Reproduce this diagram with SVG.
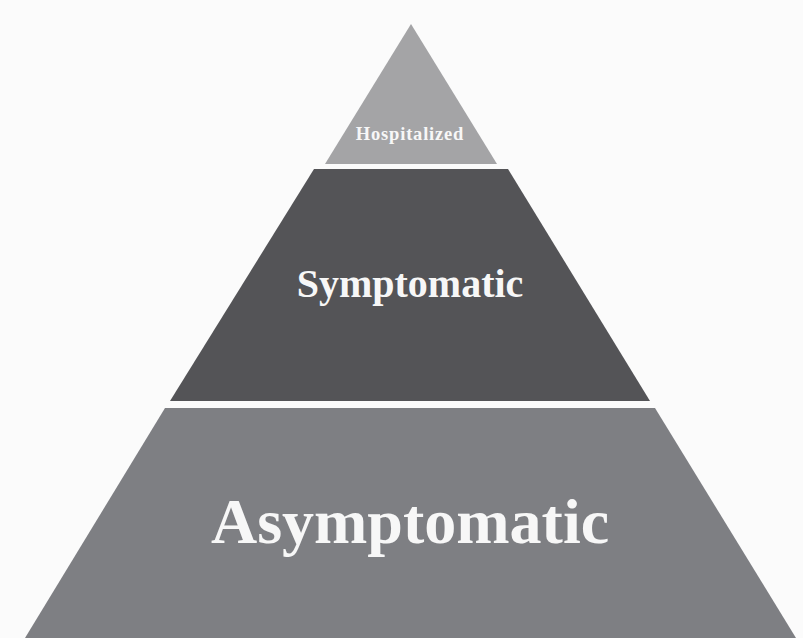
<svg xmlns="http://www.w3.org/2000/svg" width="803" height="638" viewBox="0 0 803 638">
<style>
.lbl{font-family:"Liberation Serif","Times New Roman",serif;font-weight:bold;fill:#f7f7f7;text-anchor:middle}
</style>
<rect x="0" y="0" width="803" height="638" fill="#fbfbfb"/>
<g id="hospitalized">
<polygon points="411,24 497,164 325,164" fill="#a4a4a6"/>
<text class="lbl" x="410" y="140" font-size="18.5" letter-spacing="0.8">Hospitalized</text>
</g>
<g id="symptomatic">
<polygon points="314,169 508,169 650,401 170,401" fill="#545457"/>
<text class="lbl" x="410" y="297" font-size="40">Symptomatic</text>
</g>
<g id="asymptomatic">
<polygon points="165,408 655,408 796,638 25,638" fill="#7e7f83"/>
<text class="lbl" x="410" y="543" font-size="64">Asymptomatic</text>
</g>
<g id="connectors"/>
</svg>
